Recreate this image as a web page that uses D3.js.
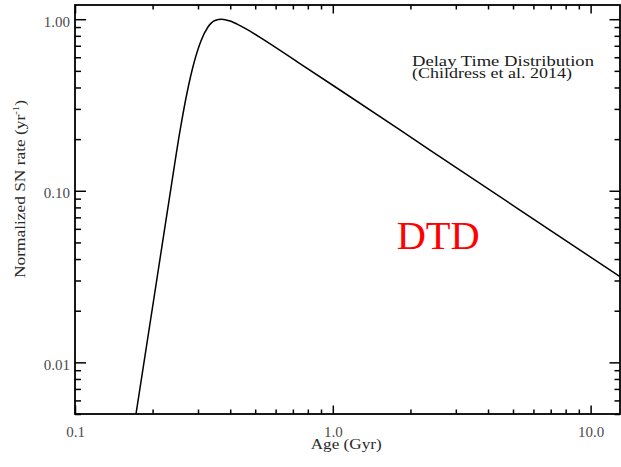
<!DOCTYPE html>
<html>
<head>
<meta charset="utf-8">
<script src="https://cdn.jsdelivr.net/npm/d3@7"></script>
<style>
  html, body { margin: 0; padding: 0; background: #fff; }
  svg { display: block; }
  text { font-family: "Liberation Serif", "Times New Roman", serif; }
</style>
</head>
<body>
<svg id="chart" width="621" height="467"></svg>
<script>
// Delay time distribution (normalized SN Ia rate vs. age), log-log
const ages  = [0.1724, 0.2080, 0.2378, 0.2554, 0.2719, 0.2893, 0.3080, 0.3279, 0.3490,
               0.3705, 0.3991, 0.4364, 0.4773, 0.5219, 0.7456, 1.066, 2.381, 5.319, 13.0];
const rates = [0.00500, 0.03089, 0.1134, 0.2231, 0.3714, 0.5554, 0.7465, 0.9006, 0.9827,
               1.000, 0.9761, 0.9178, 0.8514, 0.7843, 0.5517, 0.3867, 0.1728, 0.07723, 0.03156];

const xMajor = [0.1, 1, 10];
const xTickLabels = ["0.1", "1.0", "10.0"];
const yMajor = [0.01, 0.1, 1];
const yTickLabels = ["0.01", "0.10", "1.00"];

const xDomain = [0.1, 13.0];
const yDomain = [0.005, 1.21];

const plot = { left: 75, right: 620, top: 5, bottom: 414 };

const svg = d3.select("#chart");

const x = d3.scaleLog().domain(xDomain).range([plot.left, plot.right]);
const y = d3.scaleLog().domain(yDomain).range([plot.bottom, plot.top]);

// minor ticks at 2..9 times each power of ten inside the domain
function minorTicks(domain) {
  const out = [];
  const lo = Math.floor(Math.log10(domain[0])), hi = Math.ceil(Math.log10(domain[1]));
  for (let p = lo; p <= hi; p++) {
    for (let k = 2; k <= 9; k++) {
      const v = k * Math.pow(10, p);
      if (v >= domain[0] * 0.999 && v <= domain[1] * 1.001) out.push(v);
    }
  }
  return out;
}
const xMinor = minorTicks(xDomain);
const yMinor = minorTicks(yDomain);

const axisColor = "#000";
const labelColor = "#4a4a4a";

function styleAxis(g) {
  g.select(".domain").remove();
  g.selectAll(".tick line").attr("stroke", axisColor).attr("stroke-width", 1.5);
  g.selectAll(".tick text")
    .attr("fill", labelColor)
    .style("font-family", '"Liberation Serif", "Times New Roman", serif')
    .style("font-size", "15px");
}

// bottom axis: major ticks with labels, minor ticks without
svg.append("g")
  .attr("transform", `translate(0,${plot.bottom})`)
  .call(d3.axisBottom(x).tickValues(xMajor).tickSize(-8.5).tickPadding(12.5)
        .tickFormat((d, i) => xTickLabels[i]))
  .call(styleAxis);
svg.append("g")
  .attr("transform", `translate(0,${plot.bottom})`)
  .call(d3.axisBottom(x).tickValues(xMinor).tickSize(-4.5).tickFormat(""))
  .call(styleAxis);

// top axis (mirrored, no labels)
svg.append("g")
  .attr("transform", `translate(0,${plot.top})`)
  .call(d3.axisTop(x).tickValues(xMajor).tickSize(-8.5).tickFormat(""))
  .call(styleAxis);
svg.append("g")
  .attr("transform", `translate(0,${plot.top})`)
  .call(d3.axisTop(x).tickValues(xMinor).tickSize(-4.5).tickFormat(""))
  .call(styleAxis);

// left axis
const leftAxis = svg.append("g")
  .attr("transform", `translate(${plot.left},0)`)
  .call(d3.axisLeft(y).tickValues(yMajor).tickSize(-11).tickPadding(5)
        .tickFormat((d, i) => yTickLabels[i]))
  .call(styleAxis);
leftAxis.selectAll(".tick text").attr("x", -5).attr("dy", "0.47em");
svg.append("g")
  .attr("transform", `translate(${plot.left},0)`)
  .call(d3.axisLeft(y).tickValues(yMinor).tickSize(-6).tickFormat(""))
  .call(styleAxis);

// right axis (mirrored, no labels)
svg.append("g")
  .attr("transform", `translate(${plot.right},0)`)
  .call(d3.axisRight(y).tickValues(yMajor).tickSize(-10.5).tickFormat(""))
  .call(styleAxis);
svg.append("g")
  .attr("transform", `translate(${plot.right},0)`)
  .call(d3.axisRight(y).tickValues(yMinor).tickSize(-5.5).tickFormat(""))
  .call(styleAxis);

// plot frame
svg.append("rect")
  .attr("x", plot.left).attr("y", plot.top)
  .attr("width", plot.right - plot.left).attr("height", plot.bottom - plot.top)
  .attr("fill", "none").attr("stroke", axisColor).attr("stroke-width", 1.8);

// clip for the curve
svg.append("clipPath").attr("id", "plot-clip")
  .append("rect")
  .attr("x", plot.left).attr("y", plot.top)
  .attr("width", plot.right - plot.left).attr("height", plot.bottom - plot.top);

const line = d3.line()
  .x((d, i) => x(ages[i]))
  .y((d, i) => y(rates[i]))
  .curve(d3.curveMonotoneX);

svg.append("path")
  .datum(ages)
  .attr("clip-path", "url(#plot-clip)")
  .attr("d", line)
  .attr("fill", "none")
  .attr("stroke", "#000")
  .attr("stroke-width", 1.5)
  .attr("stroke-linejoin", "round");

// axis titles
svg.append("text")
  .attr("x", 310.7).attr("y", 448.5)
  .attr("textLength", 71).attr("lengthAdjust", "spacingAndGlyphs")
  .attr("fill", "#2a2a2a")
  .style("font-size", "14.5px")
  .text("Age (Gyr)");

const yTitle = svg.append("text")
  .attr("transform", "translate(25,278) rotate(-90)")
  .attr("x", 0).attr("y", 0)
  .attr("textLength", 178).attr("lengthAdjust", "spacingAndGlyphs")
  .attr("fill", "#2a2a2a")
  .style("font-size", "14.5px");
yTitle.append("tspan").text("Normalized SN rate (yr");
yTitle.append("tspan").attr("dy", -6).style("font-size", "9px").text("-1");
yTitle.append("tspan").attr("dy", 6).text(")");

// annotation
svg.append("text")
  .attr("x", 412).attr("y", 66)
  .attr("textLength", 182).attr("lengthAdjust", "spacingAndGlyphs")
  .attr("fill", "#1a1a1a")
  .style("font-size", "15.5px")
  .text("Delay Time Distribution");
svg.append("text")
  .attr("x", 412).attr("y", 77.7)
  .attr("textLength", 160).attr("lengthAdjust", "spacingAndGlyphs")
  .attr("fill", "#1a1a1a")
  .style("font-size", "15.5px")
  .text("(Childress et al. 2014)");

svg.append("text")
  .attr("x", 396.7).attr("y", 249.3)
  .attr("textLength", 83).attr("lengthAdjust", "spacingAndGlyphs")
  .attr("fill", "#ff0000")
  .style("font-size", "39px")
  .text("DTD");
</script>
</body>
</html>
